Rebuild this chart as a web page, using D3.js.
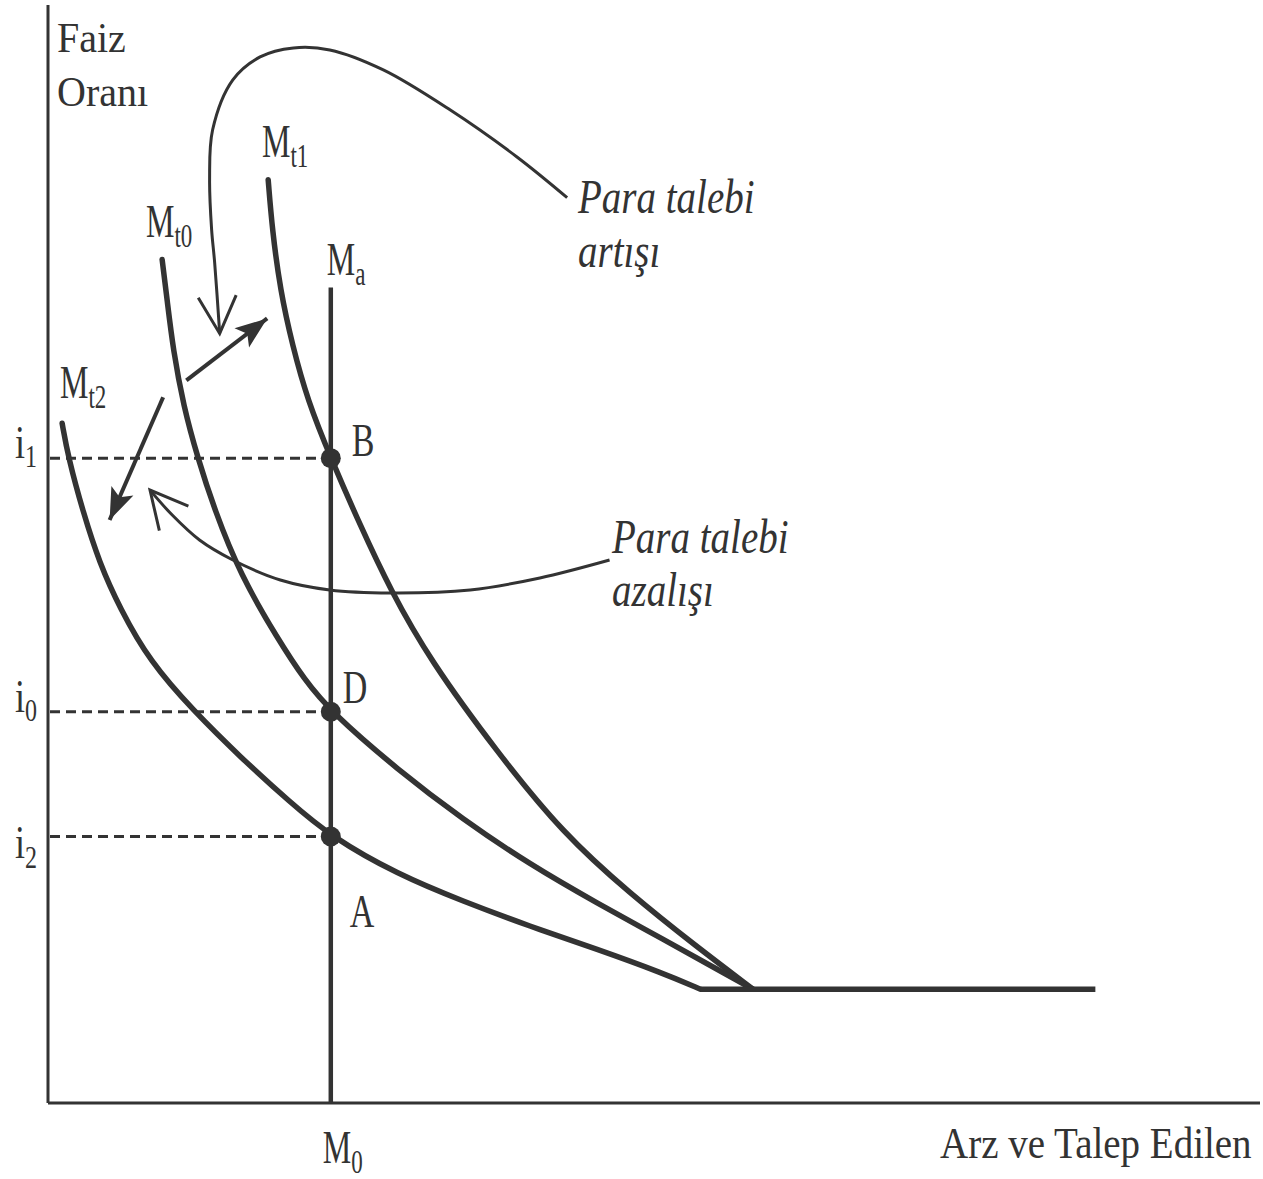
<!DOCTYPE html>
<html>
<head>
<meta charset="utf-8">
<script src="https://cdn.jsdelivr.net/npm/d3@7"></script>
<style>
  body { margin: 0; background: #fff; }
  text { font-family: "Liberation Serif", "Times New Roman", serif; fill: #333; }
</style>
</head>
<body>
<script>

// chart units: quantity of money (x) 0-120, interest rate (y) 0-110
const M0 = 28.0
const rateNames = ['1', '0', '2']
const rateValues = [64.6, 39.2, 26.7]
const floorRate = 11.4
const floorEnd = 103.7
const supplyTop = 81.7

// money demand curves
const mt1 = [[21.8, 92.5], [22.2, 87.5], [23.0, 81.4], [24.2, 75.9], [25.7, 70.4], [28.0, 64.6],
             [30.9, 57.9], [33.9, 51.4], [37.8, 44.4], [44.5, 35.1], [51.0, 27.0], [57.6, 21.0],
             [64.3, 15.6], [69.8, 11.4]]
const mt0 = [[11.3, 84.5], [11.8, 80.4], [12.4, 75.4], [13.4, 69.9], [14.8, 64.7], [16.5, 59.4],
             [19.0, 53.0], [22.8, 46.4], [25.4, 42.4], [28.0, 39.2], [34.6, 33.4], [41.1, 28.4],
             [47.7, 23.9], [54.4, 20.0], [60.9, 16.4], [67.5, 12.7], [69.8, 11.4]]
const mt2 = [[1.4, 68.1], [2.0, 64.7], [3.5, 59.1], [5.1, 54.1], [7.1, 49.6], [10.1, 44.2],
             [14.4, 39.3], [19.0, 34.7], [24.0, 30.1], [28.0, 26.7], [34.6, 22.9], [41.1, 20.2],
             [47.7, 17.7], [54.4, 15.4], [60.9, 13.0], [64.6, 11.4]]

// annotation arrows
const riseCurve = [[51.4, 90.7], [46.4, 94.8], [39.8, 99.5], [33.2, 103.5], [27.9, 105.5], [24.3, 105.7],
                   [21.0, 104.8], [18.3, 102.5], [16.3, 97.5], [16.0, 92.5], [16.2, 87.5], [16.5, 84.2],
                   [17.0, 77.1]]
const fallCurve = [[55.6, 54.4], [48.7, 52.6], [41.8, 51.4], [33.9, 51.1], [27.9, 51.4], [23.0, 52.4],
                   [18.3, 54.4], [15.0, 56.4], [12.3, 58.9], [10.1, 61.4]]
const riseArrow = [[13.7, 72.4], [21.7, 78.6]]
const fallArrow = [[11.4, 70.7], [6.1, 58.4]]

const W = 1263, H = 1179
const ink = '#333'

const x = d3.scaleLinear().domain([0, 120]).range([48, 1260])
const y = d3.scaleLinear().domain([0, 110]).range([1103, 5])

const svg = d3.select('body')
              .append('svg')
              .attr('width', W)
              .attr('height', H)

const defs = svg.append('defs')
defs.append('marker')
    .attr('id', 'open')
    .attr('markerUnits', 'userSpaceOnUse')
    .attr('viewBox', '-45 -25 50 50')
    .attr('markerWidth', 50)
    .attr('markerHeight', 50)
    .attr('refX', 0).attr('refY', 0)
    .attr('orient', 'auto')
  .append('path')
    .attr('d', 'M-37,-19 L0,0 L-37,19')
    .attr('fill', 'none')
    .attr('stroke', ink)
    .attr('stroke-width', 3)
defs.append('marker')
    .attr('id', 'solid')
    .attr('markerUnits', 'userSpaceOnUse')
    .attr('viewBox', '-45 -25 50 50')
    .attr('markerWidth', 50)
    .attr('markerHeight', 50)
    .attr('refX', 0).attr('refY', 0)
    .attr('orient', 'auto')
  .append('path')
    .attr('d', 'M-32,-12 L0,0 L-32,12 L-25,0 Z')
    .attr('fill', ink)

const line = d3.line()
               .x(d => x(d[0]))
               .y(d => y(d[1]))
               .curve(d3.curveCatmullRom.alpha(0.5))

const smooth = d3.line()
                 .x(d => x(d[0]))
                 .y(d => y(d[1]))
                 .curve(d3.curveBasis)

// axes
svg.append('line')
   .attr('x1', x(0)).attr('y1', y(0)).attr('x2', x(0)).attr('y2', y(110))
   .attr('stroke', ink).attr('stroke-width', 3)
svg.append('line')
   .attr('x1', x(0)).attr('y1', y(0)).attr('x2', x(120)).attr('y2', y(0))
   .attr('stroke', ink).attr('stroke-width', 3)

// dashed rate guides
svg.selectAll('line.guide')
   .data(rateValues)
   .join('line')
    .attr('class', 'guide')
    .attr('x1', x(0) + 2).attr('x2', x(M0) - 8)
    .attr('y1', d => y(d)).attr('y2', d => y(d))
    .attr('stroke', ink)
    .attr('stroke-width', 3)
    .attr('stroke-dasharray', '10,6')

// money supply
svg.append('line')
   .attr('x1', x(M0)).attr('x2', x(M0))
   .attr('y1', y(0)).attr('y2', y(supplyTop))
   .attr('stroke', ink).attr('stroke-width', 4.5)

// demand curves and liquidity trap floor
svg.selectAll('path.demand')
   .data([mt1, mt0, mt2])
   .join('path')
    .attr('class', 'demand')
    .attr('d', smooth)
    .attr('fill', 'none')
    .attr('stroke', ink)
    .attr('stroke-width', 5.5)
    .attr('stroke-linecap', 'round')
svg.append('line')
   .attr('x1', x(mt2[mt2.length - 1][0])).attr('x2', x(floorEnd))
   .attr('y1', y(floorRate)).attr('y2', y(floorRate))
   .attr('stroke', ink).attr('stroke-width', 5.5)

// equilibrium points
svg.selectAll('circle')
   .data(rateValues)
   .join('circle')
    .attr('cx', x(M0))
    .attr('cy', d => y(d))
    .attr('r', 10)
    .attr('fill', ink)

// annotation arrows
svg.append('path').attr('d', line(riseCurve))
   .attr('fill', 'none').attr('stroke', ink).attr('stroke-width', 3)
   .attr('marker-end', 'url(#open)')
svg.append('path').attr('d', line(fallCurve))
   .attr('fill', 'none').attr('stroke', ink).attr('stroke-width', 3)
   .attr('marker-end', 'url(#open)')
svg.selectAll('path.shift')
   .data([riseArrow, fallArrow])
   .join('path')
    .attr('class', 'shift')
    .attr('d', d3.line().x(d => x(d[0])).y(d => y(d[1])))
    .attr('stroke', ink)
    .attr('stroke-width', 4)
    .attr('marker-end', 'url(#solid)')

// labels
function label(px, py, main, sub, size, subSize, sy, italic) {
    const t = svg.append('text')
                 .attr('transform', `translate(${px},${py}) scale(1,${sy})`)
                 .style('font-size', size + 'px')
    if (italic) t.style('font-style', 'italic')
    t.append('tspan').text(main)
    if (sub) t.append('tspan').attr('dy', 7).style('font-size', subSize + 'px').text(sub)
}

label(57, 52, 'Faiz', null, 40, 0, 1.05)
label(57, 106, 'Oranı', null, 40, 0, 1.05)

label(262, 157, 'M', 't1', 32, 23, 1.45)
label(146, 237, 'M', 't0', 32, 23, 1.45)
label(x(M0) - 4, 275, 'M', 'a', 32, 23, 1.45)
label(60, 398, 'M', 't2', 32, 23, 1.45)
label(x(M0) - 8, 1163, 'M', '0', 32, 23, 1.45)

rateNames.forEach((n, i) => {
    const off = i === 2 ? 22 : 0
    label(15, y(rateValues[i]) + off, 'i', n, 36, 24, 1.3)
})

label(x(M0) + 21, y(rateValues[0]) - 2, 'B', null, 34, 0, 1.37)
label(x(M0) + 12, y(rateValues[1]) - 9, 'D', null, 34, 0, 1.37)
label(x(M0) + 19, 927, 'A', null, 34, 0, 1.37)

label(578, 213, 'Para talebi', null, 39, 0, 1.22, true)
label(578, 267, 'artışı', null, 39, 0, 1.22, true)
label(612, 553, 'Para talebi', null, 39, 0, 1.22, true)
label(612, 606, 'azalışı', null, 39, 0, 1.22, true)

label(940, 1158, 'Arz ve Talep Edilen', null, 39, 0, 1.15)

</script>
</body>
</html>
